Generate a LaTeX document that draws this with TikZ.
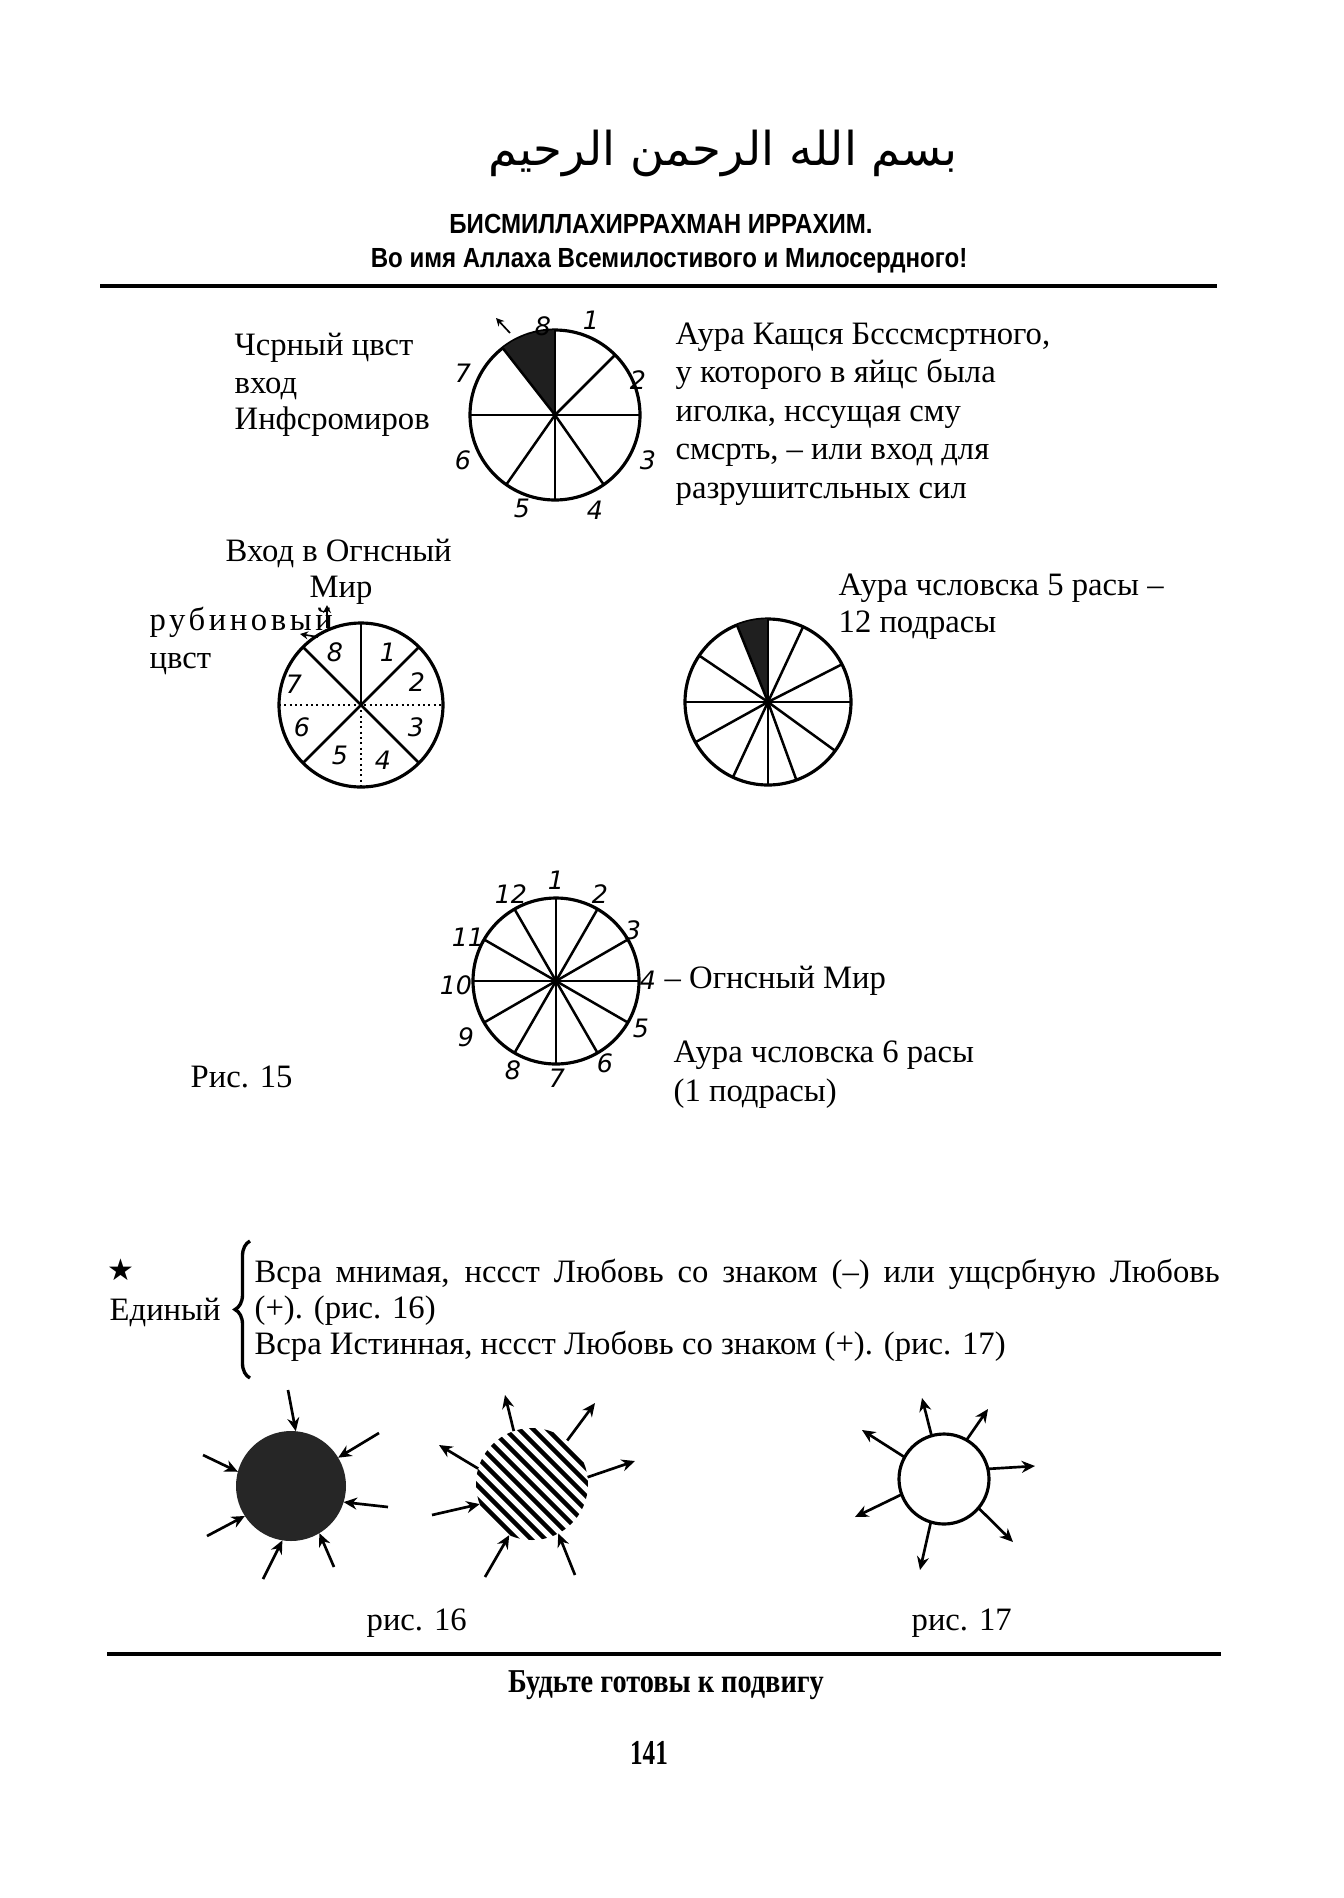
\documentclass[tikz,border=0pt]{standalone}
\usepackage{fontspec}
\setmainfont{Liberation Serif}
\newfontfamily\hsans[FakeStretch=0.87]{Liberation Sans}
\newfontfamily\mottofont[FakeStretch=0.85]{Liberation Serif}
\newfontfamily\pagefont[FakeStretch=0.72]{Liberation Serif}
\newfontfamily\djv{DejaVu Sans}
\newfontfamily\arabicfont[Script=Arabic]{DejaVu Sans}
\usetikzlibrary{arrows.meta,calc,decorations.pathreplacing}
\TeXXeTstate=1
\begin{document}
\begin{tikzpicture}[x=0.3pt,y=-0.3pt,
  body/.style={font=\fontsize{9.8}{11.6}\selectfont, inner sep=0pt, anchor=base west},
  hdr/.style={font=\hsans\bfseries\fontsize{8.3}{9.6}\selectfont, inner sep=0pt, anchor=base},
  hnum/.style={font=\djv\itshape\fontsize{7.6}{9}\selectfont, inner sep=0pt},
  wheel/.style={circle, draw, line width=0.95pt, inner sep=0pt, outer sep=0pt},
  spoke/.style={line width=0.75pt},
  ray/.style={line width=0.8pt, -{Stealth[length=4pt,width=3.6pt]}},
  tinyarrow/.style={line width=0.5pt, -{Stealth[length=2.4pt,width=2.4pt]}},
  rule/.style={line width=1.1pt}]
\useasboundingbox (0,0) rectangle (1343,1898);
\fill[white] (0,0) rectangle (1343,1898);

% ---------- header ----------
\node[inner sep=0pt, font=\arabicfont\fontsize{14}{17}\selectfont] (arab) at (723,153) {\beginR بسم الله الرحمن الرحيم\endR};
\node[hdr] (bism) at (661,233) {БИСМИЛЛАХИРРАХМАН ИРРАХИМ.};
\node[hdr] (voimya) at (669,267) {Во имя Аллаха Всемилостивого и Милосердного!};
\coordinate (r1a) at (100,286);
\coordinate (r1b) at (1217,286);
\draw[rule] (r1a) -- (r1b);

% ---------- figure 1: black sector ----------
\node[wheel, minimum size=51pt] (c1) at (555,415) {};
\fill[black!88] (c1.center) -- (c1.90) -- (c1.100) -- (c1.110) -- (c1.120) -- (c1.128) -- cycle;
\foreach \a in {90,45,0,-55,-90,-125,180,128} \draw[spoke] (c1.center) -- (c1.\a);
\node[hnum] (n11) at (591,320) {1};
\node[hnum] (n12) at (638,380) {2};
\node[hnum] (n13) at (648,460) {3};
\node[hnum] (n14) at (595,510) {4};
\node[hnum] (n15) at (522,508) {5};
\node[hnum] (n16) at (463,460) {6};
\node[hnum] (n17) at (463,373) {7};
\node[hnum] (n18) at (543,326) {8};
\coordinate (a1t) at (510,333);
\coordinate (a1h) at (496,318);
\draw[tinyarrow] (a1t) -- (a1h);

\node[body] (bl1) at (234,355) {Чсрный цвст};
\node[body] (bl2) at (234,393) {вход};
\node[body] (bl3) at (234,429) {Инфсромиров};
\node[body] (ka1) at (675,344) {Аура Кащся Бсссмсртного,};
\node[body] (ka2) at (675,382) {у которого в яйцс была};
\node[body] (ka3) at (675,421) {иголка, нссущая сму};
\node[body] (ka4) at (675,459) {смсрть, – или вход для};
\node[body] (ka5) at (675,498) {разрушитсльных сил};

% ---------- figure 2: ruby ----------
\node[wheel, minimum size=49.2pt] (c2) at (361,705) {};
\foreach \a in {45,90,135,225,315} \draw[spoke] (c2.center) -- (c2.\a);
\draw[line width=0.6pt, densely dotted] (c2.180) -- (c2.0);
\draw[line width=0.6pt, densely dotted] (c2.center) -- (c2.270);
\node[hnum] (n21) at (388,652) {1};
\node[hnum] (n22) at (417,682) {2};
\node[hnum] (n23) at (416,727) {3};
\node[hnum] (n24) at (383,760) {4};
\node[hnum] (n25) at (340,755) {5};
\node[hnum] (n26) at (302,727) {6};
\node[hnum] (n27) at (294,684) {7};
\node[hnum] (n28) at (335,652) {8};
\coordinate (a2t) at (327,628);
\coordinate (a2h) at (327,605);
\draw[tinyarrow] (a2t) -- (a2h);
\coordinate (a3t) at (318,637);
\coordinate (a3h) at (300,634);
\draw[tinyarrow] (a3t) -- (a3h);
\node[body] (og1) at (225,561) {Вход в Огнсный};
\node[body] (og2) at (309,597) {Мир};
\node[body, font=\addfontfeatures{LetterSpace=11}\fontsize{9.8}{11.6}\selectfont] (rb1) at (149,630) {рубиновый};
\node[body] (rb2) at (149,668) {цвст};

% ---------- figure 3: 5th race ----------
\node[wheel, minimum size=49.8pt] (c3) at (768,702) {};
\fill[black!88] (c3.center) -- (c3.90) -- (c3.97) -- (c3.104) -- (c3.112) -- cycle;
\foreach \a in {90,112,65,27,0,-36,-70,-90,-115,-151,180,146} \draw[spoke] (c3.center) -- (c3.\a);
\node[body] (r51) at (838,595) {Аура чсловска 5 расы –};
\node[body] (r52) at (838,632) {12 подрасы};

% ---------- figure 4: 6th race ----------
\node[wheel, minimum size=49.8pt] (c4) at (556,981) {};
\foreach \a in {0,30,...,330} \draw[spoke] (c4.center) -- (c4.\a);
\node[hnum] (n41) at (556,880) {1};
\node[hnum] (n42) at (600,894) {2};
\node[hnum] (n43) at (633,930) {3};
\node[hnum] (n44) at (648,980) {4};
\node[hnum] (n45) at (641,1028) {5};
\node[hnum] (n46) at (605,1063) {6};
\node[hnum] (n47) at (557,1078) {7};
\node[hnum] (n48) at (513,1070) {8};
\node[hnum] (n49) at (466,1037) {9};
\node[hnum] (n410) at (456,985) {10};
\node[hnum] (n411) at (468,937) {11};
\node[hnum] (n412) at (511,894) {12};
\node[body] (fw) at (664,988) {– Огнсный Мир};
\node[body] (r61) at (673,1062) {Аура чсловска 6 расы};
\node[body] (r62) at (673,1101) {(1 подрасы)};
\node[body] (fig15) at (190,1087) {Рис. 15};

% ---------- brace block ----------
\node[inner sep=0pt, font=\djv\fontsize{9}{10}\selectfont] (star) at (121,1270) {★};
\node[body] (edin) at (109,1320) {Единый};
\coordinate (bra) at (250,1378);
\coordinate (brb) at (250,1241);
\draw[line width=1pt, decorate, decoration={brace, amplitude=4.5pt}] (bra) -- (brb);
\node[body, text width=289.5pt, align=justify] (v1) at (254,1282) {Всра мнимая, нссст Любовь со знаком (–) или ущсрбную Любовь\break};
\node[body] (v2) at (254,1318) {(+). (рис. 16)};
\node[body] (v3) at (254,1354) {Всра Истинная, нссст Любовь со знаком (+). (рис. 17)};

% ---------- figure 16: black ----------
\node[circle, fill=black!85, minimum size=33pt, inner sep=0pt, outer sep=0pt] (b) at (291,1486) {};
\coordinate (bt1) at (288,1390);
\coordinate (bt2) at (379,1433);
\coordinate (bt3) at (388,1507);
\coordinate (bt4) at (334,1567);
\coordinate (bt5) at (263,1579);
\coordinate (bt6) at (207,1536);
\coordinate (bt7) at (203,1455);
\draw[ray] (bt1) -- (b.85);
\draw[ray] (bt2) -- (b.31);
\draw[ray] (bt3) -- (b.-17);
\draw[ray] (bt4) -- (b.-59);
\draw[ray] (bt5) -- (b.-99);
\draw[ray] (bt6) -- (b.-147);
\draw[ray] (bt7) -- (b.165);

% ---------- hatched ----------
\node[circle, minimum size=33.6pt, inner sep=0pt, outer sep=0pt] (h) at (532,1484) {};
\begin{scope}
\clip (h.center) circle [radius=16.8pt];
\foreach \k in {-6,...,6}
  \draw[line width=1.35pt] ($(h.center)+({\k*7-60},{-\k*7-60})$) -- ($(h.center)+({\k*7+60},{-\k*7+60})$);
\end{scope}
\coordinate (ho1) at (505,1395);
\coordinate (ho2) at (595,1403);
\coordinate (ho3) at (439,1445);
\coordinate (ho4) at (635,1461);
\coordinate (hi1) at (432,1515);
\coordinate (hi2) at (485,1577);
\coordinate (hi3) at (575,1575);
\draw[ray] (h.109) -- (ho1);
\draw[ray] (h.51) -- (ho2);
\draw[ray] (h.164) -- (ho3);
\draw[ray] (h.7) -- (ho4);
\draw[ray] (hi1) -- (h.-159);
\draw[ray] (hi2) -- (h.-114);
\draw[ray] (hi3) -- (h.-62);

% ---------- figure 17: white ----------
\node[wheel, minimum size=27pt] (w) at (944,1479) {};
\coordinate (wo1) at (922,1398);
\coordinate (wo2) at (988,1409);
\coordinate (wo3) at (1035,1466);
\coordinate (wo4) at (1013,1542);
\coordinate (wo5) at (920,1570);
\coordinate (wo6) at (855,1517);
\coordinate (wo7) at (862,1430);
\draw[ray] (w.106) -- (wo1);
\draw[ray] (w.60) -- (wo2);
\draw[ray] (w.13) -- (wo3);
\draw[ray] (w.-40) -- (wo4);
\draw[ray] (w.-107) -- (wo5);
\draw[ray] (w.-160) -- (wo6);
\draw[ray] (w.151) -- (wo7);

\node[body] (f16) at (366,1630) {рис. 16};
\node[body] (f17) at (911,1630) {рис. 17};

% ---------- footer ----------
\coordinate (r2a) at (107,1654);
\coordinate (r2b) at (1221,1654);
\draw[rule] (r2a) -- (r2b);
\node[inner sep=0pt, anchor=base, font=\mottofont\bfseries\fontsize{10}{11}\selectfont] (motto) at (666,1692) {Будьте готовы к подвигу};
\node[inner sep=0pt, anchor=base, font=\pagefont\bfseries\fontsize{10.5}{11}\selectfont] (page) at (649,1764) {141};
\end{tikzpicture}
\end{document}
